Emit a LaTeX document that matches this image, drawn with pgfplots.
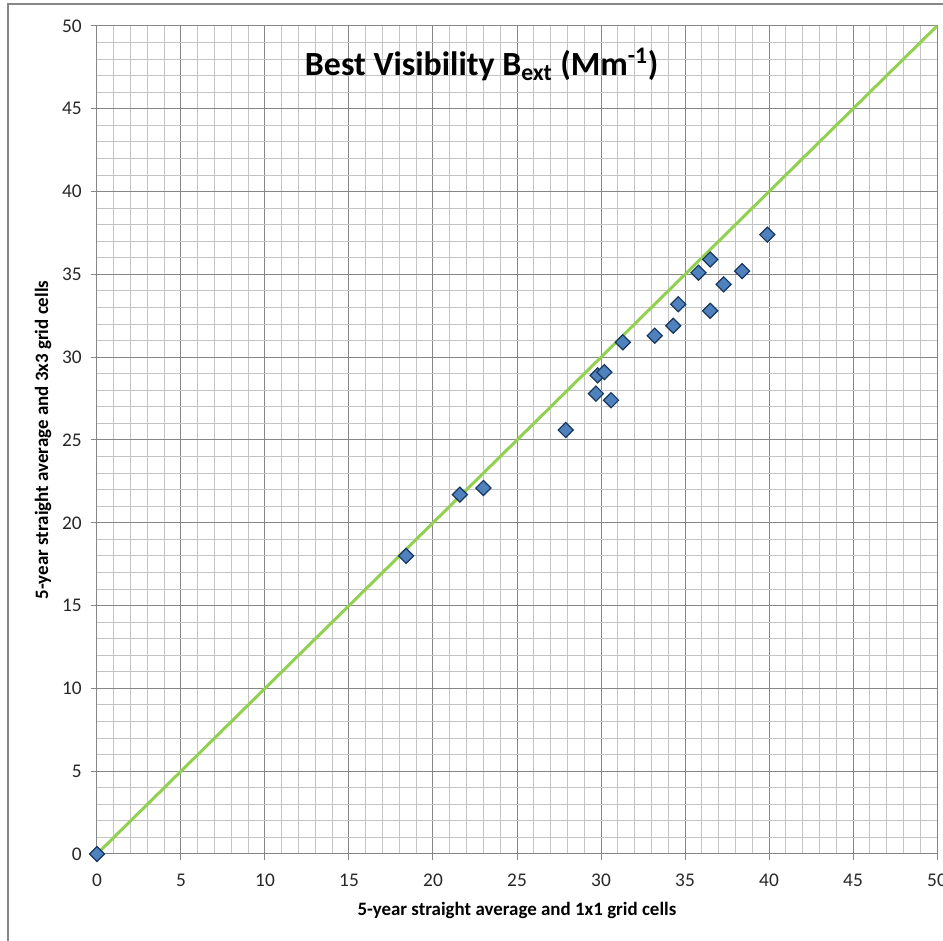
\documentclass[border=0pt]{standalone}
\usepackage{pgfplots}
\pgfplotsset{compat=1.18}
\usepackage{fontspec}
\setmainfont{Carlito}
\definecolor{linegreen}{RGB}{146,208,80}
\definecolor{mkfill}{RGB}{79,129,189}
\definecolor{mkedge}{RGB}{23,55,94}
\definecolor{majgrid}{RGB}{134,134,134}
\definecolor{mingrid}{RGB}{196,196,196}
\definecolor{framegray}{RGB}{134,134,134}
\begin{document}
\begin{tikzpicture}[x=1pt,y=1pt]
\path[use as bounding box] (-72.75,-65.25) rectangle (634.5,640.5);
\begin{axis}[
  at={(0,0)}, anchor=south west,
  scale only axis, width=630pt, height=621pt,
  xmin=0,xmax=50,ymin=0,ymax=50,
  xtick={0,5,...,50}, ytick={0,5,...,50},
  minor tick num=4,
  grid=both,
  major grid style={majgrid, line width=0.75pt},
  minor grid style={mingrid, line width=0.75pt},
  axis line style={majgrid, line width=0.75pt},
  major tick style={majgrid, line width=0.75pt},
  major tick length=4.5pt, minor tick length=0pt,
  tick align=outside,
  xtick pos=bottom, ytick pos=left,
  /pgf/number format/assume math mode=true,
  tick label style={font=\fontsize{14.5}{17}\selectfont, text=black!85},
  xticklabel style={yshift=-7pt},
  yticklabel style={xshift=-3.5pt},
  xlabel={5-year straight average and 1x1 grid cells},
  ylabel={5-year straight average and 3x3 grid cells},
  xlabel style={font=\bfseries\fontsize{14.2}{16}\selectfont, at={(axis description cs:0.5,-0.0676)}, anchor=center},
  ylabel style={font=\bfseries\fontsize{14.2}{16}\selectfont, at={(axis description cs:-0.0643,0.5)}, anchor=center},
  clip=false,
]
\addplot[linegreen, line width=2.25pt] coordinates {(0,0) (50,50)};
\addplot[only marks, mark=square*, mark size=4pt,
  mark options={rotate=45, fill=mkfill, draw=mkedge, line width=0.9pt}]
coordinates {
(0,0)
(18.4,18.0)
(21.6,21.7)
(23.0,22.1)
(27.9,25.6)
(29.7,27.8)
(29.8,28.9)
(30.2,29.1)
(30.6,27.4)
(31.3,30.9)
(33.2,31.3)
(34.3,31.9)
(34.6,33.2)
(35.8,35.1)
(36.5,35.9)
(36.5,32.8)
(37.3,34.4)
(38.4,35.2)
(39.9,37.4)
};
\node[font=\bfseries\fontsize{25.4}{30}\selectfont, anchor=center] at (rel axis cs:0.458,0.953) {Best Visibility B\textsubscript{ext} (Mm\textsuperscript{-1})};
\end{axis}
\draw[framegray, line width=1.5pt] (-66.75,-70) -- (-66.75,637.5) -- (640,637.5);
\end{tikzpicture}
\end{document}
